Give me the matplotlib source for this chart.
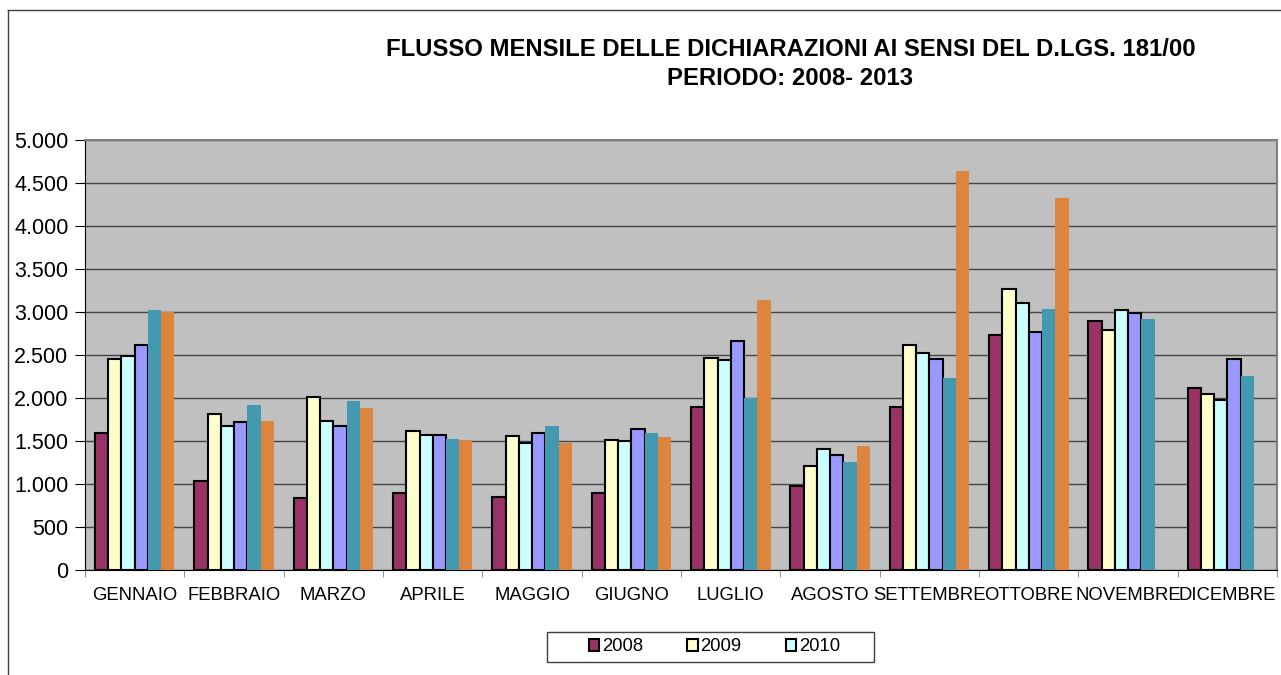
import matplotlib
matplotlib.use("Agg")
import matplotlib.pyplot as plt
import numpy as np
from matplotlib.patches import Patch, Rectangle
from matplotlib.ticker import FuncFormatter, MultipleLocator

plt.rcParams['font.family'] = ['Liberation Sans', 'DejaVu Sans']

MESI = ["GENNAIO", "FEBBRAIO", "MARZO", "APRILE", "MAGGIO", "GIUGNO",
        "LUGLIO", "AGOSTO", "SETTEMBRE", "OTTOBRE", "NOVEMBRE", "DICEMBRE"]
ANNI = ["2008", "2009", "2010", "2011", "2012", "2013"]

v2008 = [1595, 1040, 842, 897, 846, 900, 1898, 974, 1894, 2733, 2900, 2120]
v2009 = [2457, 1817, 2011, 1611, 1553, 1506, 2465, 1211, 2620, 3273, 2787, 2050]
v2010 = [2484, 1669, 1731, 1564, 1479, 1498, 2446, 1401, 2523, 3102, 3024, 1972]
v2011 = [2620, 1720, 1677, 1564, 1595, 1642, 2667, 1339, 2450, 2764, 2985, 2457]
v2012 = [3024, 1918, 1960, 1518, 1669, 1592, 2003, 1258, 2232, 3040, 2915, 2259]
v2013 = [3005, 1731, 1879, 1514, 1475, 1541, 3137, 1444, 4643, 4325, np.nan, np.nan]

serie = [v2008, v2009, v2010, v2011, v2012, v2013]
colori = ["#993366", "#FFFFCC", "#CCFFFF", "#9999FF", "#4399B0", "#DD843F"]
bordi = [True, True, True, True, False, False]


def formatta(v, pos):
    return f"{int(v):,}".replace(",", ".")


def main():
    fig = plt.figure(figsize=(12.81, 6.75), dpi=100)
    ax = fig.add_axes([0.0664, 0.1556, 0.9306, 0.637])
    ax.set_facecolor("#C0C0C0")

    x = np.arange(len(MESI))
    w = 0.8 / len(serie)
    for i, (vals, col, bordo) in enumerate(zip(serie, colori, bordi)):
        pos = x - 0.4 + w * (i + 0.5)
        if bordo:
            ax.bar(pos, vals, w, color=col, edgecolor="black", linewidth=1.5, zorder=3)
        else:
            ax.bar(pos, vals, w, color=col, linewidth=0, zorder=3)

    ax.set_xlim(-0.5, len(MESI) - 0.5)
    ax.set_ylim(0, 5000)
    ax.yaxis.set_major_locator(MultipleLocator(500))
    ax.yaxis.set_major_formatter(FuncFormatter(formatta))
    ax.grid(axis="y", color="#444444", linewidth=1, zorder=1)

    ax.set_xticks(x)
    ax.set_xticklabels(MESI, fontsize=13.3)
    ax.set_xticks(np.arange(-0.5, len(MESI)), minor=True)
    ax.tick_params(axis="x", which="major", length=0, pad=12)
    ax.tick_params(axis="x", which="minor", length=5, color="#808080")
    ax.tick_params(axis="y", length=7, labelsize=15.5, pad=5)

    for lato in ["top", "right"]:
        ax.spines[lato].set_color("#808080")
        ax.spines[lato].set_linewidth(1.5)
    ax.spines["left"].set_color("black")
    ax.spines["bottom"].set_color("black")

    fig.text(0.617, 0.926, "FLUSSO MENSILE DELLE DICHIARAZIONI AI SENSI DEL D.LGS. 181/00",
             ha="center", va="center", fontsize=17.2, fontweight="bold")
    fig.text(0.617, 0.884, "PERIODO: 2008- 2013",
             ha="center", va="center", fontsize=17.2, fontweight="bold")

    maniglie = [Patch(facecolor=colori[i], edgecolor="black", linewidth=1.5, label=ANNI[i])
                for i in range(3)]
    fig.legend(handles=maniglie, loc="center", bbox_to_anchor=(0.5577, 0.0415),
               ncol=3, fontsize=13.3, frameon=False,
               handlelength=0.55, handleheight=0.55, handletextpad=0.15,
               columnspacing=2.4)
    # riquadro della legenda
    fig.add_artist(Rectangle((0.427, 0.0193), 0.2553, 0.0444, transform=fig.transFigure,
                             facecolor="none", edgecolor="#404040", linewidth=1))

    # cornice esterna (solo sopra e a sinistra visibili)
    fig.add_artist(plt.Line2D([0.006, 1.0], [0.985, 0.985], color="#404040", linewidth=1))
    fig.add_artist(plt.Line2D([0.006, 0.006], [0.0, 0.985], color="#404040", linewidth=1))

    fig.savefig("out.png", dpi=100)


if __name__ == "__main__":
    main()
